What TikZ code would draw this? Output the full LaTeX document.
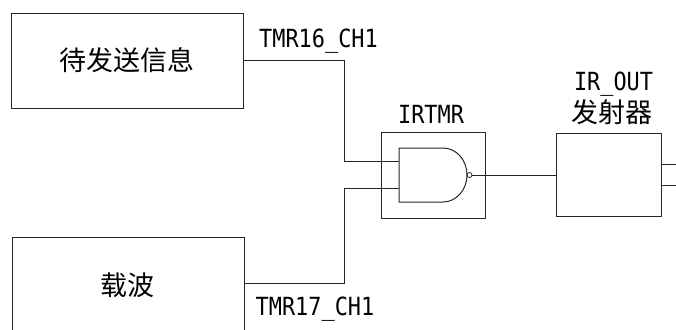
\documentclass[tikz,border=0pt]{standalone}
\usepackage{fontspec}
\newfontfamily\cjk{Noto Sans CJK SC}
\newfontfamily\latn[FakeStretch=0.875]{DejaVu Sans Mono}
\begin{document}
\begin{tikzpicture}[x=1pt,y=-1pt,
  wire/.style={draw=black!85,line width=1pt},
  boxx/.style={draw=black!85,line width=1pt,rectangle,inner sep=0pt,minimum width=#1},
  cn/.style={font=\cjk\fontsize{27}{27}\selectfont,inner sep=0pt},
  lb/.style={font=\latn\fontsize{25}{25}\selectfont,inner sep=0pt}]
\useasboundingbox (0,0) rectangle (676,329);
\clip (0,0) rectangle (676,329);
\node[boxx=232pt,minimum height=94pt] (msg) at (127,61) {};
\node[boxx=232pt,minimum height=130pt] (car) at (128,302) {};
\node[boxx=104pt,minimum height=86pt] (tmr) at (433,175) {};
\node[boxx=105pt,minimum height=83pt] (ir) at (608.5,174.5) {};
\node[cn] (t1) at (126.5,60) {待发送信息};
\node[cn] (t2) at (127.5,285) {载波};
\node[cn] (t3) at (612,112) {发射器};
\node[lb] (l1) at (318.5,41) {TMR16\_CH1};
\node[lb] (l2) at (315,309) {TMR17\_CH1};
\node[lb] (l3) at (431,114) {IRTMR};
\node[lb] (l4) at (613.5,84.5) {IR\_OUT};
% gate
\draw[wire] (399,148) -- (443,148) .. controls (456.3,148) and (467,160.1) .. (467,175) .. controls (467,189.9) and (456.3,202) .. (443,202) -- (399,202) -- cycle;
\node[circle,draw=black!85,line width=.8pt,inner sep=0pt,minimum size=5pt,fill=white] (bub) at (469.5,175) {};
\coordinate (ia) at (399,161);
\coordinate (ib) at (399,188);
\coordinate (b1) at (344,60);
\coordinate (b2) at (344,283);
\coordinate (s1) at (661,164);
\coordinate (s2) at (661,185);
\coordinate (e1) at (676,164);
\coordinate (e2) at (676,185);
\draw[wire] (msg.east |- b1) -- (b1) |- (ia);
\draw[wire] (car.east |- b2) -- (b2) |- (ib);
\draw[wire] (bub.east) -- (bub.east -| ir.west);
\draw[wire] (s1) -- (e1);
\draw[wire] (s2) -- (e2);
\end{tikzpicture}
\end{document}
